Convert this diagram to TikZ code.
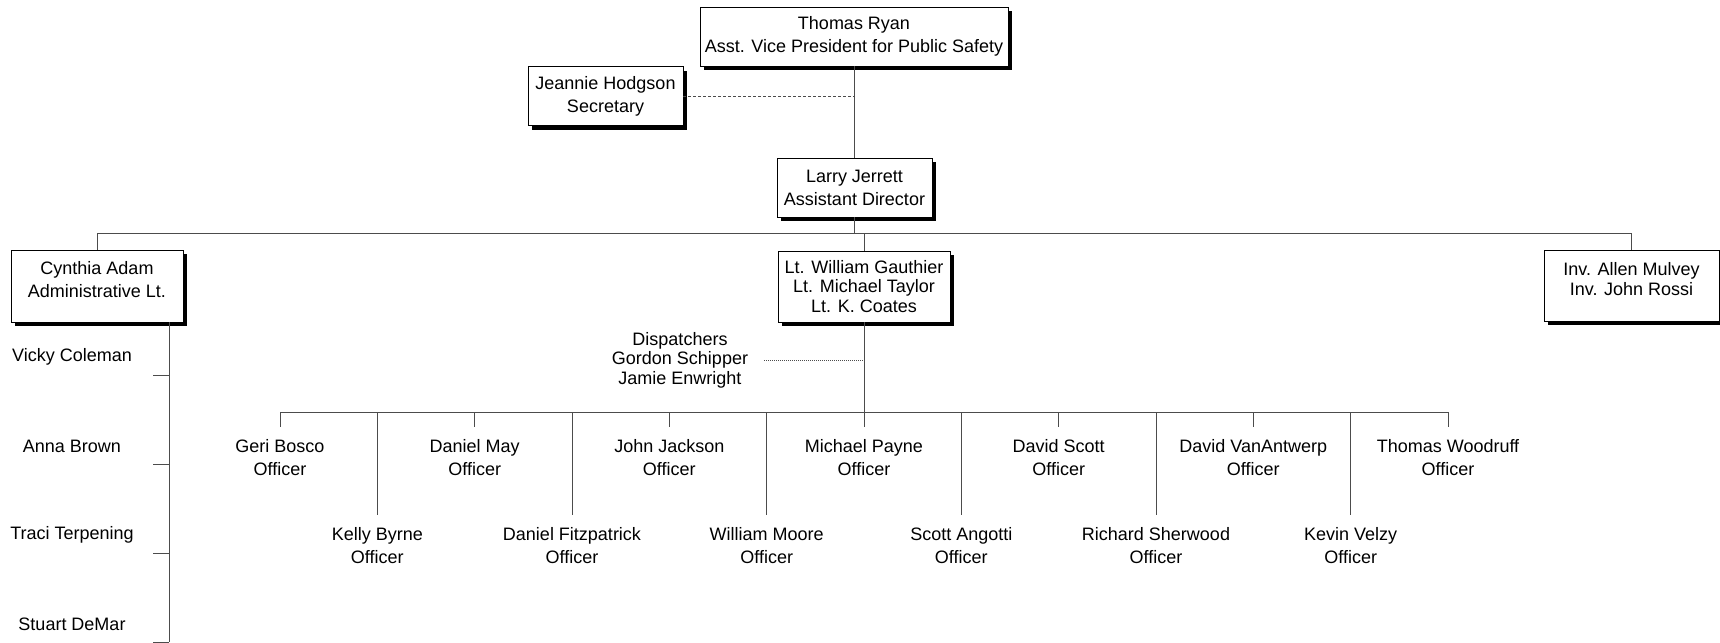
\documentclass[tikz,border=0pt]{standalone}
\usepackage{fontspec}
\setmainfont{Liberation Sans}
\usetikzlibrary{shadows, calc}

\tikzset{
  card/.style={draw, line width=0.9pt, fill=white, align=center, inner sep=0pt,
    drop shadow={shadow xshift=4pt, shadow yshift=-4pt, fill=black, opacity=1}},
  officer/.style={align=center, minimum height=62, inner sep=0pt},
  staff/.style={minimum width=162, minimum height=36, inner sep=0pt},
  wire/.style={draw=black!70, line width=0.9pt},
  tight/.style={font=\fontsize{18}{19.5}\selectfont},
}

\begin{document}
\begin{tikzpicture}[x=1pt, y=-1pt, font=\fontsize{18}{23}\selectfont]

%%Paramaters
%% rows of the officers, can be modified
\def\topRow{458}
\def\lowRow{546}

\useasboundingbox (0,0) rectangle (1720,642);

    %% chief and secretary
    \node[card, minimum width=308, minimum height=59] (ryan) at (854, 36.5) {Thomas Ryan\\Asst. Vice President for Public Safety};
    \node[card, minimum width=155, minimum height=59] (sec) at (605.5, 96) {Jeannie Hodgson\\Secretary};
    \node[card, minimum width=155, minimum height=59] (lar) at (854.5, 187.5) {Larry Jerrett\\Assistant Director};

    \draw[wire] (ryan.south) -- (ryan.south |- lar.north);
    \draw[wire, dash pattern=on 3pt off 2pt] (sec.east) -- (sec.east -| ryan.south);

    %% second level
    \node[card, minimum width=172, minimum height=72] (adam) at (97, 286) {};
    \node (adamtxt) at (97, 279.5) [align=center] {Cynthia Adam\\Administrative Lt.};
    \node[card, tight, minimum width=172, minimum height=71] (ctr) at (864, 286.5) {Lt. William Gauthier\\Lt. Michael Taylor\\Lt. K. Coates};
    \node[card, minimum width=175, minimum height=71] (inv) at (1631.5, 285.5) {};
    \node (invtxt) at (1631.5, 279) [align=center, tight] {Inv. Allen Mulvey\\Inv. John Rossi};

    \coordinate (topbus) at ($(lar.south) + (0, 16)$);
    \draw[wire] (lar.south) -- (topbus);
    \draw[wire] (topbus) -| (adam.north);
    \draw[wire] (topbus) -| (inv.north);
    \draw[wire] (topbus) -| (ctr.north);

    %% administrative staff
    \node[staff] (coleman) at (72, 357) {Vicky Coleman};
    \node[staff] (brown) at (72, 446) {Anna Brown};
    \node[staff] (terpening) at (72, 535) {Traci Terpening};
    \node[staff] (demar) at (72, 624) {Stuart DeMar};

    \coordinate (spine) at ([xshift=-14pt]adam.south east);
    \draw[wire] (spine) -- (spine |- demar.south east);
    \draw[wire] (coleman.south east) -- (coleman.south east -| spine);
    \draw[wire] (brown.south east) -- (brown.south east -| spine);
    \draw[wire] (terpening.south east) -- (terpening.south east -| spine);
    \draw[wire] (demar.south east) -- (demar.south east -| spine);

    %% dispatchers
    \node[tight, align=center, inner xsep=16pt] (disp) at (680, 360) {Dispatchers\\Gordon Schipper\\Jamie Enwright};
    \draw[wire, dash pattern=on 1pt off 1pt] (disp.east) -- (disp.east -| ctr.south);

    %% ***officers***
    \node[officer] (bosco) at (280, \topRow) {Geri Bosco\\Officer};
    \node[officer] (byrne) at (377.3, \lowRow) {Kelly Byrne\\Officer};
    \node[officer] (may) at (474.7, \topRow) {Daniel May\\Officer};
    \node[officer] (fitzpatrick) at (572, \lowRow) {Daniel Fitzpatrick\\Officer};
    \node[officer] (jackson) at (669.3, \topRow) {John Jackson\\Officer};
    \node[officer] (moore) at (766.7, \lowRow) {William Moore\\Officer};
    \node[officer] (payne) at (864, \topRow) {Michael Payne\\Officer};
    \node[officer] (angotti) at (961.3, \lowRow) {Scott Angotti\\Officer};
    \node[officer] (scott) at (1058.7, \topRow) {David Scott\\Officer};
    \node[officer] (sherwood) at (1156, \lowRow) {Richard Sherwood\\Officer};
    \node[officer] (vanantwerp) at (1253.3, \topRow) {David VanAntwerp\\Officer};
    \node[officer] (velzy) at (1350.7, \lowRow) {Kevin Velzy\\Officer};
    \node[officer] (woodruff) at (1448, \topRow) {Thomas Woodruff\\Officer};

    \coordinate (offbus) at ($(ctr.south) + (0, 90)$);
    \draw[wire] (ctr.south) -- (offbus);
    \draw[wire] (bosco.north |- offbus) -- (woodruff.north |- offbus);

    \draw[wire] (bosco.north |- offbus) -- (bosco.north);
    \draw[wire] (byrne.north |- offbus) -- (byrne.north);
    \draw[wire] (may.north |- offbus) -- (may.north);
    \draw[wire] (fitzpatrick.north |- offbus) -- (fitzpatrick.north);
    \draw[wire] (jackson.north |- offbus) -- (jackson.north);
    \draw[wire] (moore.north |- offbus) -- (moore.north);
    \draw[wire] (payne.north |- offbus) -- (payne.north);
    \draw[wire] (angotti.north |- offbus) -- (angotti.north);
    \draw[wire] (scott.north |- offbus) -- (scott.north);
    \draw[wire] (sherwood.north |- offbus) -- (sherwood.north);
    \draw[wire] (vanantwerp.north |- offbus) -- (vanantwerp.north);
    \draw[wire] (velzy.north |- offbus) -- (velzy.north);
    \draw[wire] (woodruff.north |- offbus) -- (woodruff.north);

\end{tikzpicture}
\end{document}
